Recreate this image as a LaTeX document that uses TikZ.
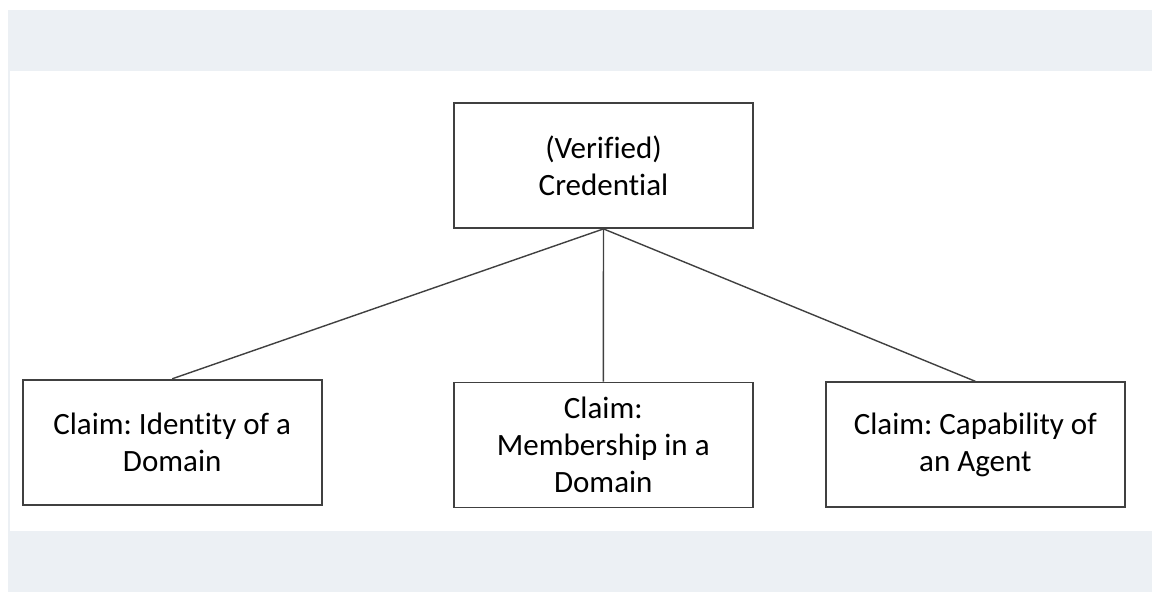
\documentclass[tikz,border=0pt]{standalone}
\usepackage{fontspec}
\setmainfont[Ligatures=NoCommon]{Carlito}
\definecolor{bandbg}{HTML}{ECF0F4}
\definecolor{boxline}{HTML}{404040}
\frenchspacing
\begin{document}
\begin{tikzpicture}[x=1pt,y=-1pt,
  box/.style={draw=boxline,line width=1.8pt,fill=white,minimum width=299pt,minimum height=125pt,inner sep=0pt,align=center,font=\fontsize{31}{37}\selectfont,text=black},
  link/.style={draw=boxline,line width=1.4pt}]
\useasboundingbox (0,0) rectangle (1152,592);
\fill[white] (0,0) rectangle (1152,592);
\fill[bandbg] (8,10) rectangle (1152,592);
\fill[white] (10,70.7) rectangle (1152,531);
\node[box] (top) at (603.5,165.5) {(Verified)\\Credential};
\node[box] (left) at (172.2,442.2) {Claim: Identity of a\\Domain};
\node[box] (mid) at (603.3,445) {Claim:\\Membership in a\\Domain};
\node[box] (right) at (975.3,444.7) {Claim: Capability of\\an Agent};
\draw[link] (top.south) -- (left.north);
\draw[link] (top.south) -- (mid.north);
\draw[link] (top.south) -- (right.north);
\end{tikzpicture}
\end{document}
